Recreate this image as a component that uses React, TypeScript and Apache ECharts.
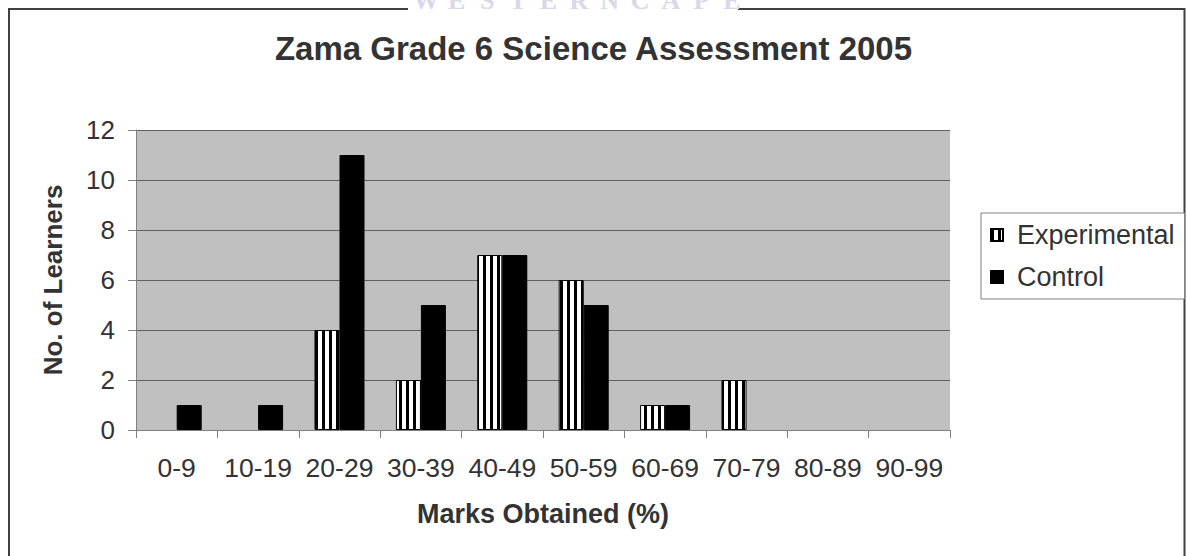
import React, { useEffect, useRef } from "react";
import * as echarts from "echarts";

const categories = ["0-9", "10-19", "20-29", "30-39", "40-49", "50-59", "60-69", "70-79", "80-89", "90-99"];
const experimental = [0, 0, 4, 2, 7, 6, 1, 2, 0, 0];
const control = [1, 1, 11, 5, 7, 5, 1, 0, 0, 0];
const yMin = 0;
const yMax = 12;
const yInterval = 2;
const titleText = "Zama Grade 6 Science Assessment 2005";
const xTitle = "Marks Obtained (%)";
const yTitle = "No. of Learners";
const watermarkLetters = ["W", "E", "S", "T", "E", "R", "N", "C", "A", "P", "E"];

const FONT = '"Liberation Sans", Arial, sans-serif';
const TXT = "#333333";

function makeStripe(): HTMLCanvasElement {
  const c = document.createElement("canvas");
  c.width = 7;
  c.height = 8;
  const ctx = c.getContext("2d")!;
  ctx.fillStyle = "#ffffff";
  ctx.fillRect(0, 0, 7, 8);
  ctx.fillStyle = "#000000";
  ctx.fillRect(0, 0, 3, 8);
  return c;
}

export default function App() {
  const ref = useRef<HTMLDivElement>(null);
  useEffect(() => {
    if (!ref.current) return;
    const chart = echarts.init(ref.current, null, { renderer: "svg" });
    const stripe = makeStripe();
    const option: any = {
      animation: false,
      backgroundColor: "#ffffff",
      title: {
        text: titleText,
        left: "center",
        top: 32,
        padding: 0,
        textStyle: { fontFamily: FONT, fontSize: 33, fontWeight: "bold", color: TXT },
      },
      legend: {
        orient: "vertical",
        left: 981,
        top: 213,
        padding: [7, 10, 7, 9],
        itemWidth: 12,
        itemHeight: 12,
        itemGap: 12,
        backgroundColor: "#ffffff",
        borderColor: "#808080",
        borderWidth: 1,
        borderRadius: 0,
        textStyle: { fontFamily: FONT, fontSize: 27, color: TXT, lineHeight: 30, padding: [0, 0, 0, 9] },
        data: [
          { name: "Experimental", icon: "rect" },
          { name: "Control", icon: "rect" },
        ],
      },
      grid: { left: 136, top: 130, width: 814, height: 300, containLabel: false, backgroundColor: "#c0c0c0", show: true, borderWidth: 0 },
      xAxis: {
        type: "category",
        data: categories,
        name: xTitle,
        nameLocation: "middle",
        nameGap: 70,
        nameTextStyle: { fontFamily: FONT, fontSize: 27, fontWeight: "bold", color: TXT },
        axisLine: { lineStyle: { color: "#808080", width: 1 } },
        axisTick: { show: true, length: 8, lineStyle: { color: "#808080" } },
        axisLabel: { fontFamily: FONT, fontSize: 26.5, color: TXT, margin: 24, interval: 0 },
        splitLine: { show: false },
      },
      yAxis: {
        type: "value",
        min: yMin,
        max: yMax,
        interval: yInterval,
        name: yTitle,
        nameLocation: "middle",
        nameGap: 70,
        nameTextStyle: { fontFamily: FONT, fontSize: 26, fontWeight: "bold", color: TXT },
        axisLine: { show: true, lineStyle: { color: "#808080", width: 1 } },
        axisTick: { show: true, length: 8, lineStyle: { color: "#808080" } },
        axisLabel: { fontFamily: FONT, fontSize: 26, color: TXT, margin: 21 },
        splitLine: { show: true, lineStyle: { color: "#606060", width: 1 } },
      },
      series: [
        {
          name: "Experimental",
          type: "bar",
          barWidth: 25,
          barGap: "0%",
          data: experimental.map((v) => (v === 0 ? null : v)),
          itemStyle: {
            color: { image: stripe, repeat: "repeat" },
            borderColor: "#000000",
            borderWidth: 1,
          },
        },
        {
          name: "Control",
          type: "bar",
          barWidth: 25,
          barGap: "0%",
          data: control.map((v) => (v === 0 ? null : v)),
          itemStyle: { color: "#000000", borderColor: "#000000", borderWidth: 1 },
        },
      ],
      graphic: [
        {
          type: "rect",
          silent: true,
          z: 0,
          shape: { x: 9, y: 9, width: 1175.5, height: 600 },
          style: { fill: "none", stroke: "#404040", lineWidth: 2 },
        },
        {
          type: "rect",
          silent: true,
          z: 1,
          shape: { x: 408, y: 0, width: 330, height: 14 },
          style: { fill: "#ffffff" },
        },
        ...watermarkLetters.map((ch, i) => ({
          type: "text",
          silent: true,
          z: 2,
          x: 426 + i * 30.6,
          y: 13,
          style: {
            text: ch,
            fill: "#d8d8ea",
            font: 'bold 26px "Liberation Serif", "DejaVu Serif", serif',
            textAlign: "center",
            textVerticalAlign: "bottom",
          },
        })),
      ],
    };
    chart.setOption(option);
    return () => chart.dispose();
  }, []);
  return (
    <div
      ref={ref}
      style={{ position: "absolute", left: 0, top: 0, width: 1187, height: 556, overflow: "hidden" }}
    />
  );
}
